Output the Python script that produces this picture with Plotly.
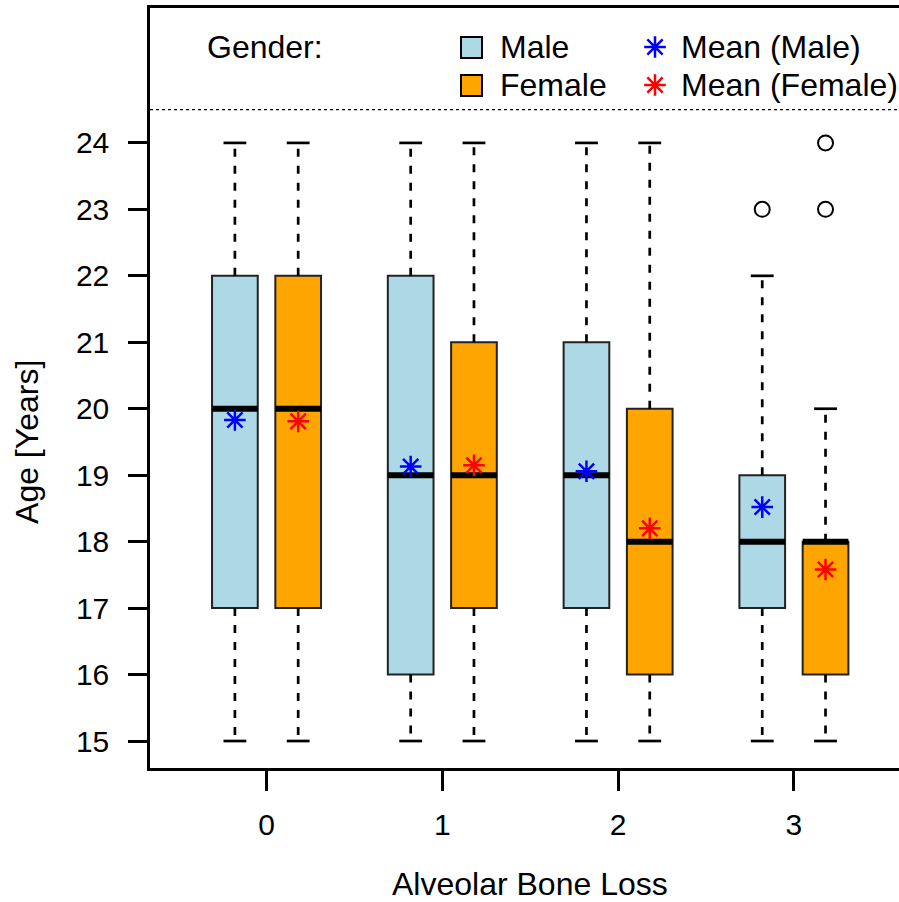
import plotly.graph_objects as go

# Alveolar bone loss categories
categories = [0, 1, 2, 3]

male_lower = [15, 15, 15, 15]
male_q1 = [17, 16, 17, 17]
male_median = [20, 19, 19, 18]
male_q3 = [22, 22, 21, 19]
male_upper = [24, 24, 24, 22]
male_mean = [19.83, 19.13, 19.06, 18.52]
male_outliers = [[], [], [], [23]]

female_lower = [15, 15, 15, 15]
female_q1 = [17, 17, 16, 16]
female_median = [20, 19, 18, 18]
female_q3 = [22, 21, 20, 18]
female_upper = [24, 24, 24, 20]
female_mean = [19.81, 19.15, 18.20, 17.58]
female_outliers = [[], [], [], [23, 24]]

y_ticks = list(range(15, 25))

MALE_COL = "#ADD8E6"
FEMALE_COL = "#FFA500"
FONT = "Liberation Sans, Arial, sans-serif"
FS = 30      # tick labels
FS_TXT = 32  # titles and legend

W, H = 899, 902
L, R, T, B = 150, 0, 8, 134
OFF = 0.18
BW = 0.26


def px(xp):
    return (xp - L) / (W - L - R)


def py(yp):
    return (H - B - yp) / (H - T - B)


fig = go.Figure()


def add_group(offset, lower, q1, med, q3, upper, mean, outl, fill, mcol, name):
    xs = [c + offset for c in categories]
    # dashed whiskers
    wx, wy = [], []
    for x, lo, a, b, hi in zip(xs, lower, q1, q3, upper):
        wx += [x, x, None, x, x, None]
        wy += [b, hi, None, a, lo, None]
    fig.add_trace(go.Scatter(x=wx, y=wy, mode="lines", showlegend=False,
                             line=dict(color="black", width=2.7, dash="8px,9px")))
    # staples
    sx, sy = [], []
    for x, lo, hi in zip(xs, lower, upper):
        sx += [x - BW / 4, x + BW / 4, None, x - BW / 4, x + BW / 4, None]
        sy += [hi, hi, None, lo, lo, None]
    fig.add_trace(go.Scatter(x=sx, y=sy, mode="lines", showlegend=False,
                             line=dict(color="black", width=2.7)))
    # boxes
    fig.add_trace(go.Bar(x=xs, base=q1, y=[b - a for a, b in zip(q1, q3)],
                         width=BW, name=name, showlegend=False,
                         marker=dict(color=fill, line=dict(color="#222222", width=2))))
    # medians
    mx, my = [], []
    for x, m in zip(xs, med):
        mx += [x - BW / 2, x + BW / 2, None]
        my += [m, m, None]
    fig.add_trace(go.Scatter(x=mx, y=my, mode="lines", showlegend=False,
                             line=dict(color="black", width=6)))
    # outliers
    ox, oy = [], []
    for x, vals in zip(xs, outl):
        for v in vals:
            ox.append(x)
            oy.append(v)
    fig.add_trace(go.Scatter(x=ox, y=oy, mode="markers", showlegend=False,
                             marker=dict(symbol="circle-open", size=15, color="black",
                                         line=dict(width=2))))
    # means
    fig.add_trace(go.Scatter(x=xs, y=mean, mode="markers", showlegend=False,
                             marker=dict(symbol="asterisk-open", size=18, color=mcol,
                                         line=dict(width=2.5, color=mcol))))


add_group(-OFF, male_lower, male_q1, male_median, male_q3, male_upper,
          male_mean, male_outliers, MALE_COL, "blue", "Male")
add_group(OFF, female_lower, female_q1, female_median, female_q3, female_upper,
          female_mean, female_outliers, FEMALE_COL, "red", "Female")

# legend asterisks on an overlay axis in plot-area fractions
fig.add_trace(go.Scatter(x=[px(655), px(655)], y=[py(47), py(85)], mode="markers",
                         xaxis="x2", yaxis="y2", showlegend=False, cliponaxis=False,
                         marker=dict(symbol="asterisk-open", size=18,
                                     color=["blue", "red"],
                                     line=dict(width=2.5, color=["blue", "red"]))))

shapes = [
    dict(type="line", xref="paper", yref="y", x0=0, x1=1, y0=24.5, y1=24.5,
         line=dict(color="black", width=1.2, dash="3px,3px")),
    dict(type="rect", xref="paper", yref="paper", x0=px(461), x1=px(482),
         y0=py(58), y1=py(37), fillcolor=MALE_COL, line=dict(color="black", width=2)),
    dict(type="rect", xref="paper", yref="paper", x0=px(461), x1=px(482),
         y0=py(96), y1=py(75), fillcolor=FEMALE_COL, line=dict(color="black", width=2)),
]

ann_font = dict(family=FONT, size=FS_TXT, color="black")
annotations = [
    dict(text="Gender:", x=px(205), y=py(47), xanchor="left"),
    dict(text="Male", x=px(498), y=py(47), xanchor="left"),
    dict(text="Female", x=px(498), y=py(85), xanchor="left"),
    dict(text="Mean (Male)", x=px(679), y=py(47), xanchor="left"),
    dict(text="Mean (Female)", x=px(679), y=py(85), xanchor="left"),
]
for a in annotations:
    a.update(xref="paper", yref="paper", yanchor="middle", showarrow=False, font=ann_font)

annotations.append(dict(text="Alveolar Bone Loss", x=1.5, xref="x", y=py(884), yref="paper",
                        xanchor="center", yanchor="middle", showarrow=False, font=ann_font))
annotations.append(dict(text="Age [Years]", x=px(27), xref="paper", y=19.5, yref="y",
                        textangle=-90, xanchor="center", yanchor="middle",
                        showarrow=False, font=ann_font))

fig.update_layout(
    width=W, height=H,
    margin=dict(l=L, r=R, t=T, b=B),
    plot_bgcolor="white", paper_bgcolor="white",
    font=dict(family=FONT, size=FS, color="black"),
    barmode="overlay",
    shapes=shapes,
    annotations=annotations,
    xaxis=dict(range=[-0.663, 3.598], tickvals=categories, ticks="outside",
               ticklen=20, tickwidth=2.5, tickcolor="black", showline=True,
               linewidth=2.5, linecolor="black", mirror=True, showgrid=False,
               zeroline=False, ticklabelstandoff=8),
    yaxis=dict(range=[14.594, 26.03], tickvals=y_ticks, ticks="outside",
               ticklen=19, tickwidth=2.5, tickcolor="black", showline=True,
               linewidth=2.5, linecolor="black", showgrid=False, zeroline=False,
               ticklabelstandoff=13),
    xaxis2=dict(overlaying="x", range=[0, 1], visible=False),
    yaxis2=dict(overlaying="y", range=[0, 1], visible=False),
)

# page without default body margin so the figure fills the window exactly
fig.write_html("out.html",
               config={"displayModeBar": False},
               post_script="document.body.style.margin='0';"
                           "document.body.style.overflow='hidden';")
